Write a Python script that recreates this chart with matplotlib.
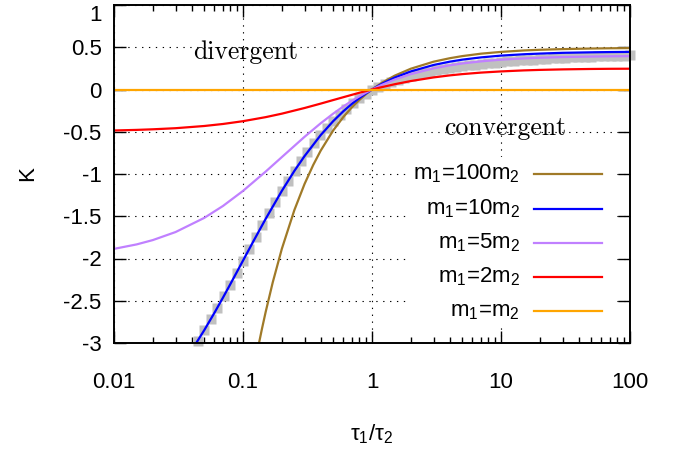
import matplotlib
matplotlib.use("Agg")
import matplotlib.pyplot as plt
from matplotlib.ticker import FixedLocator, FixedFormatter, LogLocator, NullFormatter
from matplotlib.patches import Rectangle
from matplotlib.lines import Line2D

plt.rcParams['font.family'] = ['Liberation Sans', 'DejaVu Sans']
plt.rcParams['mathtext.fontset'] = 'custom'
plt.rcParams['mathtext.rm'] = 'Liberation Sans'
plt.rcParams['mathtext.it'] = 'Liberation Sans'
plt.rcParams['axes.unicode_minus'] = False

# ---------------- data ----------------
x_ticks = [0.01, 0.1, 1, 10, 100]
x_tick_labels = ['0.01', '0.1', '1', '10', '100']
y_ticks = [1, 0.5, 0, -0.5, -1, -1.5, -2, -2.5, -3]
y_tick_labels = ['1', '0.5', '0', '-0.5', '-1', '-1.5', '-2', '-2.5', '-3']

series_labels = ['m$_1$=100m$_2$', 'm$_1$=10m$_2$', 'm$_1$=5m$_2$', 'm$_1$=2m$_2$', 'm$_1$=m$_2$']
series_colors = ['#a07a28', '#0000ff', '#c080ff', '#ff0000', '#ffa500']

x_m100 = [0.12, 0.13, 0.14, 0.15, 0.17, 0.2, 0.25, 0.3, 0.35, 0.4, 0.5, 0.6, 0.7, 0.8, 0.9,
          1, 1.2, 1.5, 2, 3, 4, 5, 7, 10, 15, 20, 30, 50, 70, 100]
k_m100 = [-3.35, -3.076, -2.838, -2.63, -2.283, -1.886, -1.428, -1.118, -0.894, -0.724, -0.485,
          -0.325, -0.209, -0.122, -0.054, 0, 0.082, 0.164, 0.246, 0.329, 0.370, 0.395, 0.424,
          0.445, 0.462, 0.470, 0.478, 0.485, 0.488, 0.490]

x_m10 = [0.03, 0.04, 0.05, 0.06, 0.07, 0.08, 0.1, 0.12, 0.15, 0.2, 0.25, 0.3, 0.4, 0.5, 0.6,
         0.7, 0.8, 0.9, 1, 1.2, 1.5, 2, 3, 4, 5, 7, 10, 15, 20, 30, 50, 70, 100]
k_m10 = [-3.358, -3.086, -2.85, -2.644, -2.462, -2.3, -2.025, -1.8, -1.53, -1.2, -0.964, -0.788,
         -0.54, -0.375, -0.257, -0.169, -0.1, -0.045, 0, 0.069, 0.141, 0.214, 0.290, 0.329,
         0.353, 0.380, 0.401, 0.417, 0.425, 0.434, 0.440, 0.443, 0.445]

x_m5 = [0.01, 0.015, 0.02, 0.03, 0.05, 0.07, 0.1, 0.15, 0.2, 0.3, 0.4, 0.5, 0.6, 0.7, 0.8, 0.9,
        1, 1.2, 1.5, 2, 3, 4, 5, 7, 10, 15, 20, 30, 50, 70, 100]
k_m5 = [-1.886, -1.833, -1.782, -1.687, -1.52, -1.378, -1.2, -0.971, -0.8, -0.56, -0.4, -0.286,
        -0.2, -0.133, -0.08, -0.036, 0, 0.057, 0.118, 0.182, 0.25, 0.286, 0.308, 0.333, 0.353,
        0.368, 0.376, 0.384, 0.390, 0.393, 0.395]

x_m2 = [0.01, 0.015, 0.02, 0.03, 0.05, 0.07, 0.1, 0.15, 0.2, 0.3, 0.4, 0.5, 0.6, 0.7, 0.8, 0.9,
        1, 1.2, 1.5, 2, 3, 4, 5, 7, 10, 15, 20, 30, 50, 70, 100]
k_m2 = [-0.485, -0.478, -0.471, -0.458, -0.432, -0.408, -0.375, -0.327, -0.286, -0.219, -0.167,
        -0.125, -0.091, -0.0625, -0.038, -0.018, 0, 0.029, 0.0625, 0.1, 0.143, 0.167, 0.182,
        0.2, 0.214, 0.226, 0.232, 0.238, 0.243, 0.245, 0.246]

x_m1 = [0.01, 100]
k_m1 = [0, 0]

x_gray = [0.04467, 0.05012, 0.05623, 0.06310, 0.07079, 0.07943, 0.08913, 0.1, 0.1122, 0.1259,
          0.1413, 0.1585, 0.1778, 0.1995, 0.2239, 0.2512, 0.2818, 0.3162, 0.3548, 0.3981,
          0.4467, 0.5012, 0.5623, 0.6310, 0.7079, 0.7943, 0.8913, 1.0,
          1.122, 1.259, 1.413, 1.585, 1.778, 1.995, 2.239, 2.512, 2.818, 3.162, 3.548, 3.981,
          4.467, 5.012, 5.623, 6.310, 7.079, 7.943, 8.913, 10.0,
          11.22, 12.59, 14.13, 15.85, 17.78, 19.95, 22.39, 25.12, 28.18, 31.62, 35.48, 39.81,
          44.67, 50.12, 56.23, 63.10, 70.79, 79.43, 89.13, 100.0]
k_gray = [-2.971, -2.847, -2.718, -2.585, -2.448, -2.309, -2.167, -2.025, -1.883, -1.741,
          -1.601, -1.465, -1.332, -1.203, -1.078, -0.959, -0.846, -0.739, -0.638, -0.544,
          -0.455, -0.373, -0.297, -0.227, -0.163, -0.104, -0.049, 0.0,
          0.035, 0.065, 0.092, 0.117, 0.140, 0.160, 0.179, 0.196, 0.212, 0.226, 0.240, 0.252,
          0.264, 0.275, 0.285, 0.294, 0.303, 0.311, 0.319, 0.326,
          0.333, 0.339, 0.345, 0.350, 0.355, 0.360, 0.364, 0.368, 0.372, 0.376, 0.379, 0.382,
          0.385, 0.388, 0.391, 0.394, 0.397, 0.400, 0.402, 0.405]

# ---------------- figure ----------------
fig = plt.figure(figsize=(6.76, 4.5), dpi=100)
ax = fig.add_axes([114 / 676, 1 - 343 / 450, 516 / 676, 338 / 450])

ax.set_xscale('log')
ax.set_xlim(0.01, 100)
ax.set_ylim(-3, 1)

ax.plot(x_gray, k_gray, ls='none', marker='s', ms=7.3, color='#c0c0c0', mec='none',
        clip_on=False, zorder=1.5)

xs = [x_m100, x_m10, x_m5, x_m2, x_m1]
ks = [k_m100, k_m10, k_m5, k_m2, k_m1]
for x, k, c in zip(xs, ks, series_colors):
    ax.plot(x, k, color=c, lw=1.6, zorder=2)

# axes styling
ax.xaxis.set_major_locator(FixedLocator(x_ticks))
ax.xaxis.set_major_formatter(FixedFormatter(x_tick_labels))
ax.xaxis.set_minor_locator(LogLocator(base=10, subs=[2, 3, 4, 5, 6, 7, 8, 9]))
ax.xaxis.set_minor_formatter(NullFormatter())
ax.yaxis.set_major_locator(FixedLocator(y_ticks))
ax.yaxis.set_major_formatter(FixedFormatter(y_tick_labels))

ax.tick_params(which='both', direction='in', top=True, right=True, width=1.0, colors='black')
ax.tick_params(which='major', length=8.5, labelsize=16)
ax.tick_params(which='minor', length=4.5)
ax.tick_params(axis='x', which='major', pad=21)
ax.tick_params(axis='y', which='major', pad=9)
for s in ax.spines.values():
    s.set_linewidth(1.4)

ax.grid(True, which='major', color='black', linestyle=(0, (1.2, 5)), linewidth=0.8)
ax.set_axisbelow(True)

ax.set_ylabel('K', fontsize=16)
ax.yaxis.set_label_coords((28 - 114) / 516, 0.5)
ax.yaxis.label.set_va('center')
ax.set_xlabel('τ$_1$/τ$_2$', fontsize=16)
ax.xaxis.set_label_coords(0.5, (343 - 434) / 338)
ax.xaxis.label.set_va('center')

fig.canvas.draw()
for lbl in ax.get_yticklabels():
    if lbl.get_text() == '1':
        lbl.set_va('top')
        lbl.set_y(lbl.get_position()[1])

ax.text((246 - 114) / 516, (343 - 52) / 338, 'divergent', transform=ax.transAxes,
        fontfamily='cmr10', fontsize=18.5, ha='center', va='center', zorder=4)
ax.text((505 - 114) / 516, (343 - 128) / 338, 'convergent', transform=ax.transAxes,
        fontfamily='cmr10', fontsize=18.5, ha='center', va='center', zorder=4)

# opaque key box
ax.add_patch(Rectangle(((410 - 114) / 516, (343 - 327) / 338), (615 - 410) / 516, (327 - 157) / 338,
                       transform=ax.transAxes, facecolor='white', edgecolor='none', zorder=3))
row_px = [174, 209, 243, 277, 311]
for lab, c, py in zip(series_labels, series_colors, row_px):
    yy = (343 - py) / 338
    ax.text((520 - 114) / 516, yy, lab, transform=ax.transAxes, ha='right', va='center',
            fontsize=16, zorder=4)
    ax.add_line(Line2D([(534 - 114) / 516, (602 - 114) / 516], [yy, yy], transform=ax.transAxes,
                       color=c, lw=1.6, zorder=4))

fig.savefig('out.png', dpi=100)
